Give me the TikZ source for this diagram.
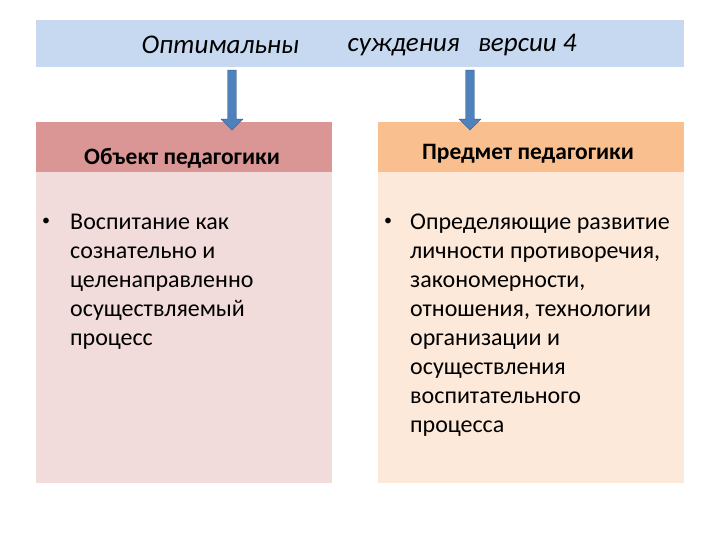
\documentclass[tikz,border=0pt]{standalone}
\usepackage{fontspec}
\setmainfont{Carlito}
\usetikzlibrary{shapes.arrows}
\definecolor{topbar}{RGB}{198,217,240}
\definecolor{lhead}{RGB}{217,150,148}
\definecolor{lbody}{RGB}{242,220,219}
\definecolor{rhead}{RGB}{250,191,143}
\definecolor{rbody}{RGB}{253,233,217}
\definecolor{arr}{RGB}{79,129,189}
\definecolor{arrd}{RGB}{56,93,138}
\tikzset{body/.style={anchor=north west,align=left,font=\fontsize{24}{29}\selectfont,inner sep=0pt},
head/.style={font=\bfseries\fontsize{23.5}{26}\selectfont},
dot/.style={font=\fontsize{16}{29}\selectfont,inner sep=0pt},
barr/.style={single arrow,draw=arrd,fill=arr,shape border rotate=270,minimum height=60pt,minimum width=22pt,single arrow head extend=5pt,inner sep=3pt}}
\begin{document}
\begin{tikzpicture}[x=1pt,y=-1pt]
\useasboundingbox[fill=white] (0,0) rectangle (720,540);
\fill[topbar] (36,20) rectangle (684,67);
\node[font=\itshape\fontsize{27}{30}\selectfont,anchor=west] (t1) at (138,45) {Оптимальны};
\node[font=\itshape\fontsize{27}{30}\selectfont,anchor=west] (t2) at (344,45) {суждения \ \ версии 4};
\fill[lhead] (36,122) rectangle (332,172);
\fill[lbody] (36,172) rectangle (332,483);
\fill[rhead] (378,122) rectangle (684,172);
\fill[rbody] (378,172) rectangle (684,483);
\node[head] (h1) at (182,158) {Объект педагогики};
\node[head] (h2) at (528,154) {Предмет педагогики};
\node[barr] (a1) at (232,98) {};
\node[barr] (a2) at (470,98) {};
\node[body] (b1) at (70,214) {Воспитание как\\сознательно и\\целенаправленно\\осуществляемый\\процесс};
\node[dot] (d1) at (46,222) {•};
\node[body] (b2) at (410,214) {Определяющие развитие\\личности противоречия,\\закономерности,\\отношения, технологии\\организации и\\осуществления\\воспитательного\\процесса};
\node[dot] (d2) at (388,222) {•};
\end{tikzpicture}
\end{document}
